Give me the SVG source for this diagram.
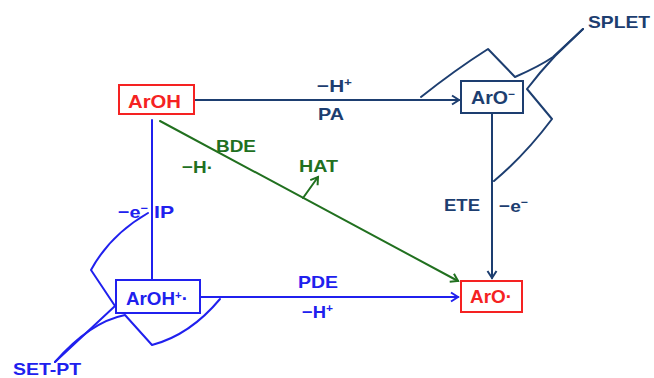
<svg xmlns="http://www.w3.org/2000/svg" width="654" height="378" viewBox="0 0 654 378">
<defs>
<style>
text{font-family:"Liberation Sans",Arial,sans-serif;font-weight:bold;font-size:18px}
.lbl{font-size:17px}
.sup{font-size:11px}
.red{fill:#f52222}.navy{fill:#1d3e70}.blue{fill:#2020ee}.green{fill:#21701f}
.box{fill:#fff;stroke-width:2}
.ln{fill:none;stroke-width:2;stroke-linejoin:round;stroke-linecap:round}
</style>
<marker id="aN" markerUnits="userSpaceOnUse" markerWidth="12" markerHeight="12" refX="9" refY="6" orient="auto"><path d="M2,1.5 L9,6 L2,10.5" fill="none" stroke="#1d3e70" stroke-width="2"/></marker>
<marker id="aB" markerUnits="userSpaceOnUse" markerWidth="12" markerHeight="12" refX="9" refY="6" orient="auto"><path d="M2,1.5 L9,6 L2,10.5" fill="none" stroke="#2020ee" stroke-width="2"/></marker>
<marker id="aG" markerUnits="userSpaceOnUse" markerWidth="12" markerHeight="12" refX="9" refY="6" orient="auto"><path d="M2,1.5 L9,6 L2,10.5" fill="none" stroke="#21701f" stroke-width="2"/></marker>
</defs>
<rect width="654" height="378" fill="#fff"/>
<g id="connectors">
<line class="ln" x1="194" y1="100" x2="459" y2="100" stroke="#1d3e70" marker-end="url(#aN)"/>
<line class="ln" x1="492" y1="113" x2="492" y2="278" stroke="#1d3e70" marker-end="url(#aN)"/>
<line class="ln" x1="200" y1="297" x2="458" y2="297" stroke="#2020ee" marker-end="url(#aB)"/>
<line class="ln" x1="152" y1="120" x2="152" y2="280" stroke="#2020ee"/>
<line class="ln" x1="160" y1="121" x2="458" y2="281" stroke="#21701f" marker-end="url(#aG)"/>
<line class="ln" x1="303" y1="198" x2="318" y2="177" stroke="#21701f" marker-end="url(#aG)"/>
<path class="ln" stroke="#1d3e70" d="M421,97 Q455,70 488,49 L515,77 Q540,66 553,57 L583,29"/>
<path class="ln" stroke="#1d3e70" d="M583,29 L555,56 Q540,72 527,89 L552,119 Q525,155 494,181"/>
<path class="ln" stroke="#2020ee" d="M148,213 Q110,235 91,270 L115,306 L55,362"/>
<path class="ln" stroke="#2020ee" d="M55,362 Q90,322 125,315 L152,345 Q190,335 220,299"/>
</g>
<g id="ArOH">
<rect class="box" x="119" y="85" width="75" height="29" stroke="#f52222"/>
<text class="red" x="128" y="108" textLength="53" lengthAdjust="spacingAndGlyphs">ArOH</text>
</g>
<g id="ArO-anion">
<rect class="box" x="461" y="81" width="62" height="32" stroke="#1d3e70"/>
<text class="navy" x="471" y="104" textLength="44" lengthAdjust="spacingAndGlyphs">ArO<tspan class="sup" dy="-6">−</tspan></text>
</g>
<g id="ArOH-radical-cation">
<rect class="box" x="116" y="280" width="84" height="33" stroke="#2020ee"/>
<text class="blue" x="126" y="305" textLength="62" lengthAdjust="spacingAndGlyphs">ArOH<tspan class="sup" dy="-6">+</tspan><tspan dy="6">·</tspan></text>
</g>
<g id="ArO-radical">
<rect class="box" x="461" y="281" width="61" height="31" stroke="#f52222"/>
<text class="red" x="470" y="303" textLength="42" lengthAdjust="spacingAndGlyphs">ArO·</text>
</g>
<g id="labels">
<text class="navy lbl" x="317" y="92" textLength="35" lengthAdjust="spacingAndGlyphs">−H<tspan class="sup" dy="-6">+</tspan></text>
<text class="navy lbl" x="318" y="120" textLength="26" lengthAdjust="spacingAndGlyphs">PA</text>
<text class="green lbl" x="216" y="152" textLength="40" lengthAdjust="spacingAndGlyphs">BDE</text>
<text class="green lbl" x="182" y="173" textLength="31" lengthAdjust="spacingAndGlyphs">−H·</text>
<text class="green lbl" x="299" y="172" textLength="39" lengthAdjust="spacingAndGlyphs">HAT</text>
<text class="navy lbl" x="444" y="211" textLength="36" lengthAdjust="spacingAndGlyphs">ETE</text>
<text class="navy lbl" x="499" y="212" textLength="29" lengthAdjust="spacingAndGlyphs">−e<tspan class="sup" dy="-6">−</tspan></text>
<text class="blue lbl" x="118" y="218" textLength="30" lengthAdjust="spacingAndGlyphs">−e<tspan class="sup" dy="-6">−</tspan></text>
<text class="blue lbl" x="154" y="218" textLength="20" lengthAdjust="spacingAndGlyphs">IP</text>
<text class="blue lbl" x="298" y="288" textLength="40" lengthAdjust="spacingAndGlyphs">PDE</text>
<text class="blue lbl" x="302" y="318" textLength="31" lengthAdjust="spacingAndGlyphs">−H<tspan class="sup" dy="-6">+</tspan></text>
<text class="navy lbl" x="588" y="28" textLength="62" lengthAdjust="spacingAndGlyphs">SPLET</text>
<text class="blue lbl" x="13" y="375" textLength="68" lengthAdjust="spacingAndGlyphs">SET-PT</text>
</g>
</svg>
